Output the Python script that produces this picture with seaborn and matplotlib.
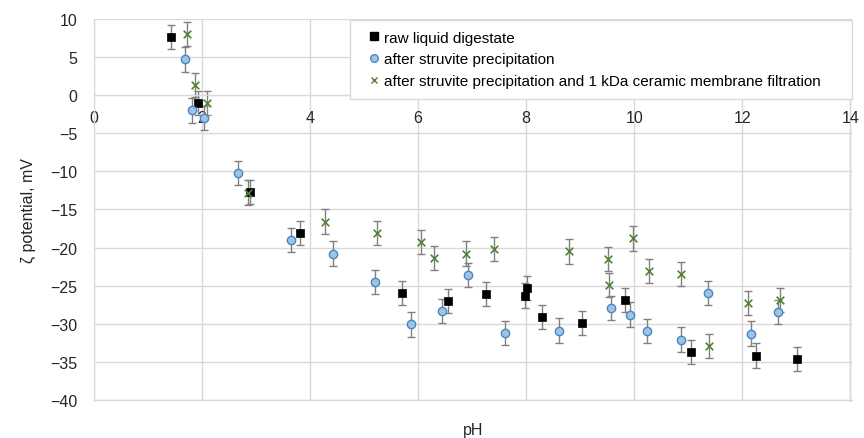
import matplotlib
matplotlib.use("Agg")
import matplotlib.pyplot as plt
from matplotlib.lines import Line2D
import numpy as np
import pandas as pd
import seaborn as sns

sns.set_style("white")
plt.rcParams["font.family"] = ["Liberation Sans", "DejaVu Sans"]

# raw liquid digestate
raw_ph = [1.42, 1.92, 2.89, 3.81, 5.70, 6.56, 7.26, 7.98, 8.01, 8.30, 9.03, 9.83, 11.05, 12.25, 13.01]
raw_zeta = [7.6, -1.0, -12.7, -18.1, -26.0, -27.0, -26.1, -26.3, -25.3, -29.1, -29.9, -26.9, -33.7, -34.2, -34.6]
raw_err = [1.6] * len(raw_ph)

# after struvite precipitation
str_ph = [1.69, 1.82, 2.04, 2.66, 3.65, 4.42, 5.21, 5.86, 6.45, 6.93, 7.60, 8.61, 9.57, 9.93,
          10.24, 10.86, 11.36, 12.16, 12.66]
str_zeta = [4.7, -2.0, -3.0, -10.2, -19.0, -20.8, -24.5, -30.1, -28.3, -23.6, -31.2, -30.9, -27.9, -28.8,
            -31.0, -32.1, -26.0, -31.3, -28.5]
str_err = [1.6] * len(str_ph)

# after struvite precipitation and membrane filtration
mem_ph = [1.72, 1.87, 2.09, 2.85, 4.28, 5.23, 6.06, 6.30, 6.88, 7.40, 8.80, 9.52, 9.54, 9.97,
          10.27, 10.87, 11.39, 12.10, 12.70]
mem_zeta = [8.0, 1.3, -1.0, -12.8, -16.6, -18.1, -19.3, -21.4, -20.8, -20.2, -20.5, -21.5, -24.9, -18.8,
            -23.1, -23.5, -32.9, -27.3, -26.9]
mem_err = [1.6] * len(mem_ph)

labels = ["raw liquid digestate",
          "after struvite precipitation",
          "after struvite precipitation and 1 kDa ceramic membrane filtration"]

df = pd.concat([
    pd.DataFrame({"pH": raw_ph, "zeta": raw_zeta, "err": raw_err, "sample": labels[0]}),
    pd.DataFrame({"pH": str_ph, "zeta": str_zeta, "err": str_err, "sample": labels[1]}),
    pd.DataFrame({"pH": mem_ph, "zeta": mem_zeta, "err": mem_err, "sample": labels[2]}),
])

fig = plt.figure(figsize=(8.64, 4.39), dpi=100)
ax = fig.add_axes([94 / 864, 1 - 402 / 439, (852 - 94) / 864, (402 - 20) / 439])

grid_col = "#d9d9d9"
txt_col = "#262626"
ax.errorbar(df["pH"], df["zeta"], yerr=df["err"], fmt="none", ecolor="#808080",
            elinewidth=1.0, capsize=3, capthick=1.0, zorder=2)

styles = {
    labels[0]: dict(marker="s", color="black", edgecolor="black", s=38, linewidth=0.5),
    labels[1]: dict(marker="o", color="#9dc3e6", edgecolor="#4a86c5", s=36, linewidth=1.0),
    labels[2]: dict(marker="x", color="#548235", s=30, linewidth=1.2),
}
for lab in labels:
    sns.scatterplot(data=df[df["sample"] == lab], x="pH", y="zeta", ax=ax, zorder=3,
                    legend=False, **styles[lab])

ax.set_xlim(0, 14.03)
ax.set_ylim(-40.15, 10)
ax.set_xticks(np.arange(0, 15, 2))
ax.set_yticks(np.arange(-40, 11, 5))
ax.set_yticklabels([f"{v}".replace("-", "\u2212") for v in range(-40, 11, 5)])
ax.grid(True, color=grid_col, linewidth=1.0, zorder=0)
ax.set_axisbelow(True)
# outer frame lines of the plot area (bottom and right edges)
ax.axhline(-40, color=grid_col, linewidth=1.0, zorder=0, clip_on=False)
ax.axvline(14, color=grid_col, linewidth=1.0, zorder=0, clip_on=False)
for s in ["top", "right"]:
    ax.spines[s].set_visible(False)
ax.spines["left"].set_color(grid_col)
ax.spines["bottom"].set_color(grid_col)
ax.spines["bottom"].set_position(("data", 0))
ax.tick_params(length=0, labelsize=11.5, colors=txt_col)
ax.tick_params(axis="x", pad=11)
ax.tick_params(axis="y", pad=12)
ax.set_xlabel("pH", fontsize=11.5, color=txt_col)
ax.xaxis.set_label_coords(0.5, -0.054)
ax.set_ylabel("\u03b6 potential, mV", fontsize=11.5, color=txt_col, labelpad=10)

handles = [
    Line2D([], [], linestyle="none", marker="s", color="black", markersize=5.5),
    Line2D([], [], linestyle="none", marker="o", markerfacecolor="#9dc3e6",
           markeredgecolor="#4a86c5", markersize=5.5),
    Line2D([], [], linestyle="none", marker="x", color="#548235", markersize=5),
]
leg = ax.legend(handles, labels, loc="upper left", bbox_to_anchor=(0.338, 0.0, 0.662, 0.997),
                mode="expand", fontsize=11, frameon=True, fancybox=False, framealpha=1,
                edgecolor=grid_col, handlelength=1.7, handletextpad=-0.15, borderpad=0.68,
                labelspacing=0.52, borderaxespad=0)
leg.get_frame().set_linewidth(1.0)
for t in leg.get_texts():
    t.set_color("black")

fig.savefig("out.png", dpi=100)
